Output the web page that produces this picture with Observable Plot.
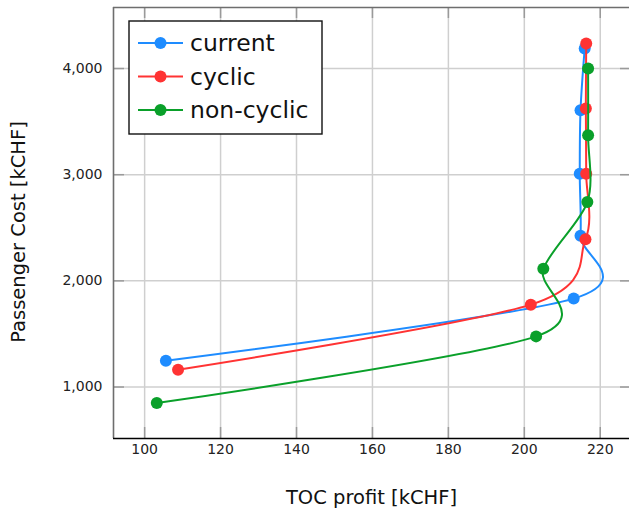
<!DOCTYPE html>
<html>
<head>
<meta charset="utf-8">
<script src="https://cdn.jsdelivr.net/npm/d3@7"></script>
<script src="https://cdn.jsdelivr.net/npm/@observablehq/plot@0.6"></script>
<style>
  html, body { margin: 0; padding: 0; background: #fff; }
  svg { display: block; }
</style>
</head>
<body>
<div id="chart"></div>
<script>
// ---- data ----
const seriesNames = ["current", "cyclic", "non-cyclic"];
const seriesColors = ["#1e8cff", "#ff3333", "#0aa02a"];

const currentX = [105.6, 213.0, 214.8, 214.6, 214.8, 215.9];
const currentY = [1248, 1833, 2424, 3009, 3607, 4189];

const cyclicX = [108.8, 201.7, 216.1, 216.3, 216.2, 216.3];
const cyclicY = [1163, 1776, 2392, 3009, 3623, 4236];

const nonCyclicX = [103.2, 203.1, 205.0, 216.6, 216.8, 216.8];
const nonCyclicY = [849, 1477, 2113, 2742, 3371, 4000];

const xTicks = [100, 120, 140, 160, 180, 200, 220];
const yTicks = [1000, 2000, 3000, 4000];
const xDomain = [91.8, 227.7];
const yDomain = [515, 4575];

const xLabel = "TOC profit [kCHF]";
const yLabel = "Passenger Cost [kCHF]";

// ---- build table ----
const seriesXs = [currentX, cyclicX, nonCyclicX];
const seriesYs = [currentY, cyclicY, nonCyclicY];
const rows = seriesNames.map((name, i) =>
  seriesXs[i].map((x, j) => ({series: name, x, y: seriesYs[i][j]}))
);

const marks = [
  Plot.gridX(xTicks, {stroke: "#cfcfcf", strokeOpacity: 1, strokeWidth: 1.5}),
  Plot.gridY(yTicks, {stroke: "#cfcfcf", strokeOpacity: 1, strokeWidth: 1.5}),
  // inward ticks
  Plot.tickX(xTicks, {x: d => d, insetTop: 420, stroke: "#9a9a9a", strokeWidth: 1.5}),
  Plot.tickX(xTicks, {x: d => d, insetBottom: 420, stroke: "#9a9a9a", strokeWidth: 1.5}),
  Plot.tickY(yTicks, {y: d => d, insetRight: 505, stroke: "#9a9a9a", strokeWidth: 1.5}),
  Plot.tickY(yTicks, {y: d => d, insetLeft: 507, stroke: "#9a9a9a", strokeWidth: 1.5}),
  // frame
  Plot.ruleX([xDomain[0]], {stroke: "#6e6e6e", strokeWidth: 1.6}),
  Plot.ruleY([yDomain[1]], {stroke: "#6e6e6e", strokeWidth: 1.6}),
  Plot.ruleY([yDomain[0]], {stroke: "#000", strokeWidth: 1.6}),
  Plot.axisX(xTicks, {tickSize: 0, tickPadding: 6, fontSize: 14, fill: "#222", label: null}),
  Plot.axisY(yTicks, {tickSize: 0, tickPadding: 11, fontSize: 14, fill: "#222", label: null, tickFormat: d3.format(",")}),
  Plot.text([xLabel], {frameAnchor: "bottom", lineAnchor: "middle", textAnchor: "middle", dy: 59, fontSize: 19.5, fill: "#111"}),
  Plot.text([yLabel], {frameAnchor: "left", lineAnchor: "middle", textAnchor: "middle", rotate: -90, dx: -95, dy: 9, fontSize: 19.5, fill: "#111"})
];

rows.forEach((data, i) => {
  marks.push(Plot.line(data, {x: "x", y: "y", stroke: seriesColors[i], strokeWidth: 2, curve: "cardinal", tension: 0.1}));
  marks.push(Plot.dot(data, {x: "x", y: "y", fill: seriesColors[i], r: 6}));
});

const svg = Plot.plot({
  width: 629,
  height: 510,
  marginLeft: 113,
  marginRight: 0,
  marginTop: 7,
  marginBottom: 72,
  style: {fontFamily: "DejaVu Sans", background: "#fff"},
  x: {domain: xDomain},
  y: {domain: yDomain},
  marks
});

// ---- legend (inside the plot area, top-left) ----
const g = d3.select(svg).append("g").attr("font-family", "DejaVu Sans").attr("text-anchor", "start");
g.append("rect").attr("x", 129).attr("y", 21).attr("width", 193).attr("height", 113)
  .attr("fill", "#fff").attr("stroke", "#111").attr("stroke-width", 1.4);
seriesNames.forEach((name, i) => {
  const cy = 43 + i * 33.5;
  g.append("line").attr("x1", 138).attr("x2", 183).attr("y1", cy).attr("y2", cy)
    .attr("stroke", seriesColors[i]).attr("stroke-width", 2);
  g.append("circle").attr("cx", 160.5).attr("cy", cy).attr("r", 6).attr("fill", seriesColors[i]);
  g.append("text").attr("x", 190).attr("y", cy).attr("dy", "0.35em")
    .attr("text-anchor", "start").attr("font-size", 23.5).attr("fill", "#111").text(name);
});

document.getElementById("chart").appendChild(svg);
</script>
</body>
</html>
